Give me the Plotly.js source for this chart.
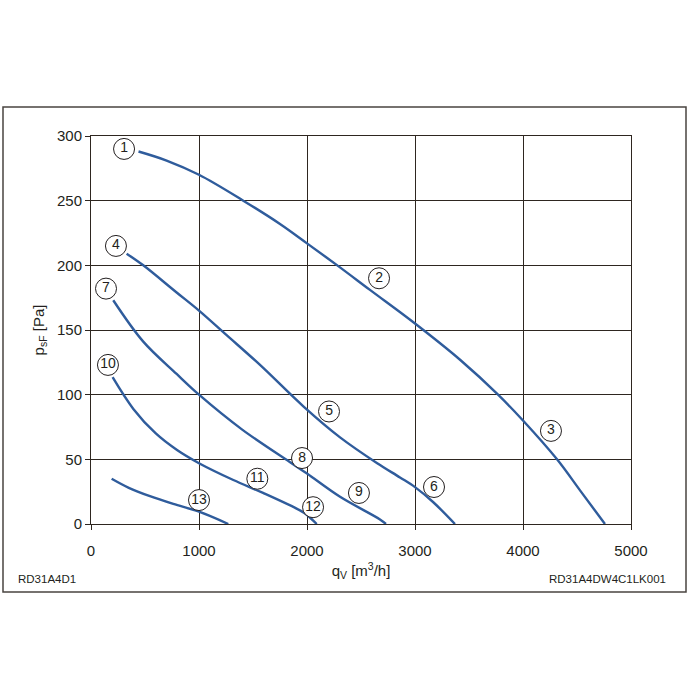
<!DOCTYPE html>
<html>
<head>
<meta charset="utf-8">
<script src="https://cdn.plot.ly/plotly-3.0.1.min.js"></script>
<style>html,body{margin:0;padding:0;background:#fff;}#chart{width:700px;height:700px;}</style>
</head>
<body>
<div id="chart"></div>
<script>
// Curve A (1-2-3)
const qA = [440, 700, 1000, 1410, 1750, 2000, 2296, 2583, 3000, 3417, 3769, 4000, 4315, 4528, 4759];
const pA = [288, 281, 270, 250, 232, 217, 199, 181, 155, 127, 100, 80, 50, 26, 0];
// Curve B (4-5-6)
const qB = [330, 484, 793, 1000, 1256, 1565, 1966, 2306, 2650, 2861, 3000, 3167, 3370];
const pB = [209, 200, 179, 165, 146, 123, 91, 67, 47, 36, 28.5, 17, 0];
// Curve C (7-8-9)
const qC = [206, 484, 793, 1000, 1400, 1840, 2000, 2306, 2676, 2731];
const pC = [173, 141, 116, 100, 73, 48, 39, 21, 3.5, 0];
// Curve D (10-11-12)
const qD = [200, 392, 600, 800, 1000, 1318, 1593, 1935, 2000, 2090];
const pD = [113.5, 89, 70, 57, 47, 34, 24, 10.5, 7, 0];
// Curve E (13)
const qE = [191, 350, 546, 762, 1000, 1271];
const pE = [35, 28, 21.5, 15.5, 9.5, 0];

// Circled curve labels
const labelText = ['1','2','3','4','5','6','7','8','9','10','11','12','13'];
const labelQ = [306, 2667, 4259, 231, 2204, 3176, 139, 1954, 2481, 157, 1540, 2056, 1000];
const labelP = [290, 190, 72, 215, 87, 28.6, 182, 51, 24, 123, 35, 13, 18.5];

const xTicks = [0, 1000, 2000, 3000, 4000, 5000];
const yTicks = [0, 50, 100, 150, 200, 250, 300];

const curveColor = '#2f5c9c';
const gridColor = '#2e2620';
const font = 'Liberation Sans, Arial, sans-serif';

function curve(q, p) {
  return {x: q, y: p, type: 'scatter', mode: 'lines', line: {color: curveColor, width: 2.4, shape: 'spline', smoothing: 1}, hoverinfo: 'none', showlegend: false, cliponaxis: false};
}

const traces = [
  curve(qA, pA), curve(qB, pB), curve(qC, pC), curve(qD, pD), curve(qE, pE),
  {
    x: labelQ, y: labelP, text: labelText, type: 'scatter', mode: 'markers+text',
    marker: {symbol: 'circle', size: 21, color: '#ffffff', line: {color: '#231f20', width: 1}},
    textposition: 'middle center', textfont: {family: font, size: 14, color: '#231f20'},
    hoverinfo: 'none', showlegend: false, cliponaxis: false
  }
];

const layout = {
  width: 700, height: 700,
  margin: {l: 91, r: 69, t: 136, b: 176},
  paper_bgcolor: '#ffffff', plot_bgcolor: '#ffffff',
  font: {family: font, color: '#231f20'},
  showlegend: false,
  xaxis: {
    range: [0, 5000], tickvals: xTicks, ticktext: xTicks.map(String),
    showgrid: true, gridcolor: gridColor, gridwidth: 1,
    showline: true, mirror: true, linecolor: gridColor, linewidth: 1,
    zeroline: false, ticks: 'outside', ticklen: 5, tickcolor: gridColor, tickwidth: 1,
    ticklabelstandoff: 8,
    tickfont: {family: font, size: 15, color: '#231f20'},
    title: {text: 'q<sub>V</sub> [m<sup>3</sup>/h]', font: {family: font, size: 15, color: '#231f20'}, standoff: 7}
  },
  yaxis: {
    range: [0, 300], tickvals: yTicks, ticktext: yTicks.map(String),
    showgrid: true, gridcolor: gridColor, gridwidth: 1,
    showline: true, mirror: true, linecolor: gridColor, linewidth: 1,
    zeroline: false, ticks: 'outside', ticklen: 5, tickcolor: gridColor, tickwidth: 1,
    ticklabelstandoff: 0,
    tickfont: {family: font, size: 15, color: '#231f20'},
    title: {text: 'p<sub>sF</sub> [Pa]', font: {family: font, size: 15, color: '#231f20'}, standoff: 8}
  },
  shapes: [
    {type: 'rect', xref: 'paper', yref: 'paper', x0: -88/540, x1: 595/540, y0: -68/388, y1: 417/388,
     line: {color: '#4a4440', width: 1.5}, fillcolor: 'rgba(0,0,0,0)', layer: 'below'}
  ],
  annotations: [
    {text: 'RD31A4D1', xref: 'paper', yref: 'paper', x: -75/540, y: -55/388, xanchor: 'left', yanchor: 'middle', showarrow: false, font: {family: font, size: 11.5, color: '#231f20'}},
    {text: 'RD31A4DW4C1LK001', xref: 'paper', yref: 'paper', x: 577/540, y: -55/388, xanchor: 'right', yanchor: 'middle', showarrow: false, font: {family: font, size: 11.5, color: '#231f20'}}
  ]
};

Plotly.newPlot('chart', traces, layout, {staticPlot: true, displayModeBar: false});
</script>
</body>
</html>
